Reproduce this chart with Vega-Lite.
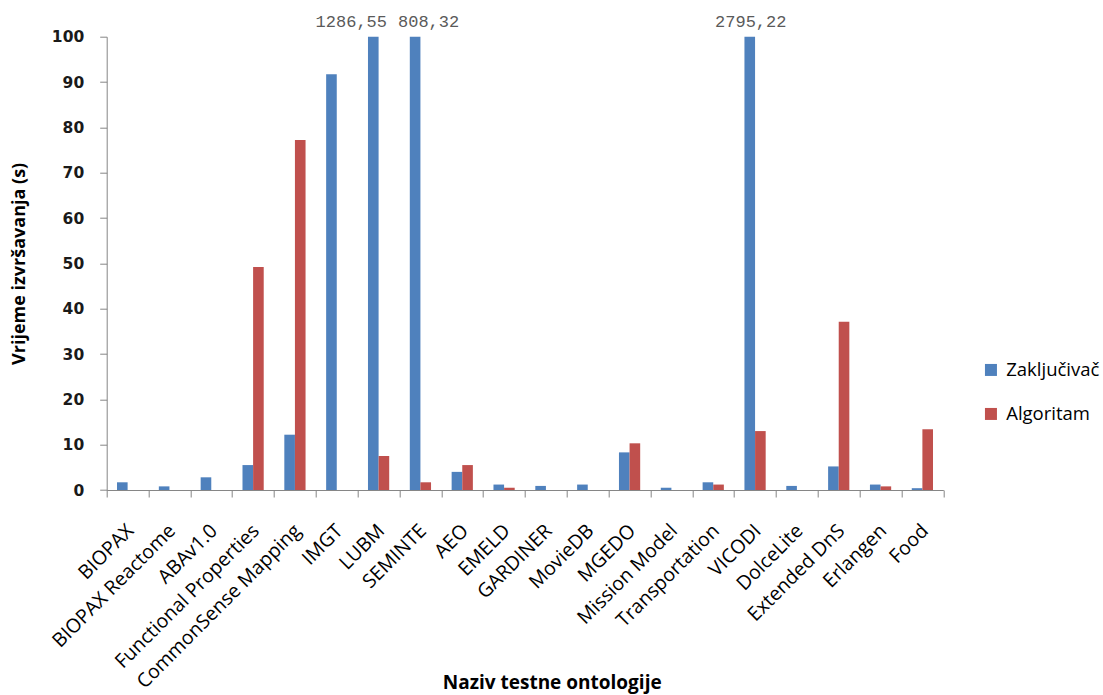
{
  "$schema": "https://vega.github.io/schema/vega-lite/v6.json",
  "width": 836.6,
  "height": 453.3,
  "autosize": "none",
  "padding": {"left": 106.7, "top": 36.7, "right": 159.7, "bottom": 205},
  "background": "white",
  "config": {"view": {"stroke": null}},
  "data": {
    "values": [
      {"ont": "BIOPAX", "series": "Zaključivač", "value": 1.7},
      {"ont": "BIOPAX", "series": "Algoritam", "value": 0},
      {"ont": "BIOPAX Reactome", "series": "Zaključivač", "value": 0.8},
      {"ont": "BIOPAX Reactome", "series": "Algoritam", "value": 0},
      {"ont": "ABAv1.0", "series": "Zaključivač", "value": 2.8},
      {"ont": "ABAv1.0", "series": "Algoritam", "value": 0},
      {"ont": "Functional Properties", "series": "Zaključivač", "value": 5.5},
      {"ont": "Functional Properties", "series": "Algoritam", "value": 49.2},
      {"ont": "CommonSense Mapping", "series": "Zaključivač", "value": 12.2},
      {"ont": "CommonSense Mapping", "series": "Algoritam", "value": 77.2},
      {"ont": "IMGT", "series": "Zaključivač", "value": 91.7},
      {"ont": "IMGT", "series": "Algoritam", "value": 0},
      {"ont": "LUBM", "series": "Zaključivač", "value": 1286.55},
      {"ont": "LUBM", "series": "Algoritam", "value": 7.5},
      {"ont": "SEMINTE", "series": "Zaključivač", "value": 808.32},
      {"ont": "SEMINTE", "series": "Algoritam", "value": 1.7},
      {"ont": "AEO", "series": "Zaključivač", "value": 4.0},
      {"ont": "AEO", "series": "Algoritam", "value": 5.5},
      {"ont": "EMELD", "series": "Zaključivač", "value": 1.2},
      {"ont": "EMELD", "series": "Algoritam", "value": 0.5},
      {"ont": "GARDINER", "series": "Zaključivač", "value": 0.9},
      {"ont": "GARDINER", "series": "Algoritam", "value": 0},
      {"ont": "MovieDB", "series": "Zaključivač", "value": 1.2},
      {"ont": "MovieDB", "series": "Algoritam", "value": 0},
      {"ont": "MGEDO", "series": "Zaključivač", "value": 8.3},
      {"ont": "MGEDO", "series": "Algoritam", "value": 10.3},
      {"ont": "Mission Model", "series": "Zaključivač", "value": 0.5},
      {"ont": "Mission Model", "series": "Algoritam", "value": 0},
      {"ont": "Transportation", "series": "Zaključivač", "value": 1.7},
      {"ont": "Transportation", "series": "Algoritam", "value": 1.2},
      {"ont": "VICODI", "series": "Zaključivač", "value": 2795.22},
      {"ont": "VICODI", "series": "Algoritam", "value": 13.0},
      {"ont": "DolceLite", "series": "Zaključivač", "value": 0.9},
      {"ont": "DolceLite", "series": "Algoritam", "value": 0},
      {"ont": "Extended DnS", "series": "Zaključivač", "value": 5.2},
      {"ont": "Extended DnS", "series": "Algoritam", "value": 37.1},
      {"ont": "Erlangen", "series": "Zaključivač", "value": 1.2},
      {"ont": "Erlangen", "series": "Algoritam", "value": 0.8},
      {"ont": "Food", "series": "Zaključivač", "value": 0.4},
      {"ont": "Food", "series": "Algoritam", "value": 13.4}
    ]
  },
  "encoding": {
    "x": {
      "field": "ont", "type": "nominal", "sort": null,
      "scale": {"paddingInner": 0, "paddingOuter": 0},
      "title": "Naziv testne ontologije",
      "axis": {
        "tickBand": "extent", "labelAngle": -45, "labelAlign": "right", "labelBaseline": "top",
        "labelFont": "Open Sans", "labelFontSize": 19.5, "labelColor": "#000000",
        "labelPadding": 24, "labelOffset": -4, "labelOverlap": false, "labelLimit": 400,
        "tickSize": 7, "tickColor": "#868686", "domainColor": "#868686",
        "titleFont": "Open Sans", "titleFontWeight": "bold", "titleFontSize": 19, "titleColor": "#000000",
        "titleX": 445, "titleY": 202, "titleBaseline": "bottom", "titleAnchor": "middle"
      }
    },
    "xOffset": {
      "field": "series", "type": "nominal", "sort": ["Zaključivač", "Algoritam"],
      "scale": {"paddingInner": 0, "paddingOuter": 0.97}
    }
  },
  "layer": [
    {
      "mark": {"type": "bar"},
      "encoding": {
        "y": {
          "field": "value", "type": "quantitative",
          "scale": {"domain": [0, 100], "clamp": true, "nice": false},
          "title": "Vrijeme izvršavanja  (s)",
          "axis": {
            "values": [0, 10, 20, 30, 40, 50, 60, 70, 80, 90, 100],
            "grid": false, "tickSize": 7, "tickColor": "#868686", "domainColor": "#868686",
            "labelFont": "DejaVu Sans", "labelFontSize": 15.5, "labelFontWeight": "bold", "labelColor": "#1a1a1a", "labelPadding": 16,
            "titleFont": "Open Sans", "titleFontWeight": "bold", "titleFontSize": 18, "titleColor": "#000000",
            "titlePadding": 23
          }
        },
        "color": {
          "field": "series", "type": "nominal", "sort": ["Zaključivač", "Algoritam"],
          "scale": {"domain": ["Zaključivač", "Algoritam"], "range": ["#4F81BD", "#C0504D"]},
          "legend": {
            "title": null, "orient": "none", "legendX": 875, "legendY": 324,
            "symbolType": "square", "symbolSize": 144, "symbolStrokeWidth": 0,
            "labelFont": "Open Sans", "labelFontSize": 18.5, "labelColor": "#000000",
            "labelOffset": 6, "rowPadding": 25
          }
        }
      }
    },
    {
      "transform": [
        {"filter": "datum.ont === 'LUBM' && datum.series === 'Zaključivač'"},
        {"calculate": "replace(format(datum.value, '.2f'), '.', ',')", "as": "label"}
      ],
      "mark": {"type": "text", "font": "Liberation Mono", "fontSize": 17, "color": "#5a5a5a", "baseline": "alphabetic", "dy": -10, "dx": -22},
      "encoding": {"y": {"datum": 100, "type": "quantitative"}, "text": {"field": "label"}}
    },
    {
      "transform": [
        {"filter": "datum.ont === 'SEMINTE' && datum.series === 'Zaključivač'"},
        {"calculate": "replace(format(datum.value, '.2f'), '.', ',')", "as": "label"}
      ],
      "mark": {"type": "text", "font": "Liberation Mono", "fontSize": 17, "color": "#5a5a5a", "baseline": "alphabetic", "dy": -10, "dx": 13.5},
      "encoding": {"y": {"datum": 100, "type": "quantitative"}, "text": {"field": "label"}}
    },
    {
      "transform": [
        {"filter": "datum.ont === 'VICODI' && datum.series === 'Zaključivač'"},
        {"calculate": "replace(format(datum.value, '.2f'), '.', ',')", "as": "label"}
      ],
      "mark": {"type": "text", "font": "Liberation Mono", "fontSize": 17, "color": "#5a5a5a", "baseline": "alphabetic", "dy": -10, "dx": 1},
      "encoding": {"y": {"datum": 100, "type": "quantitative"}, "text": {"field": "label"}}
    }
  ]
}
